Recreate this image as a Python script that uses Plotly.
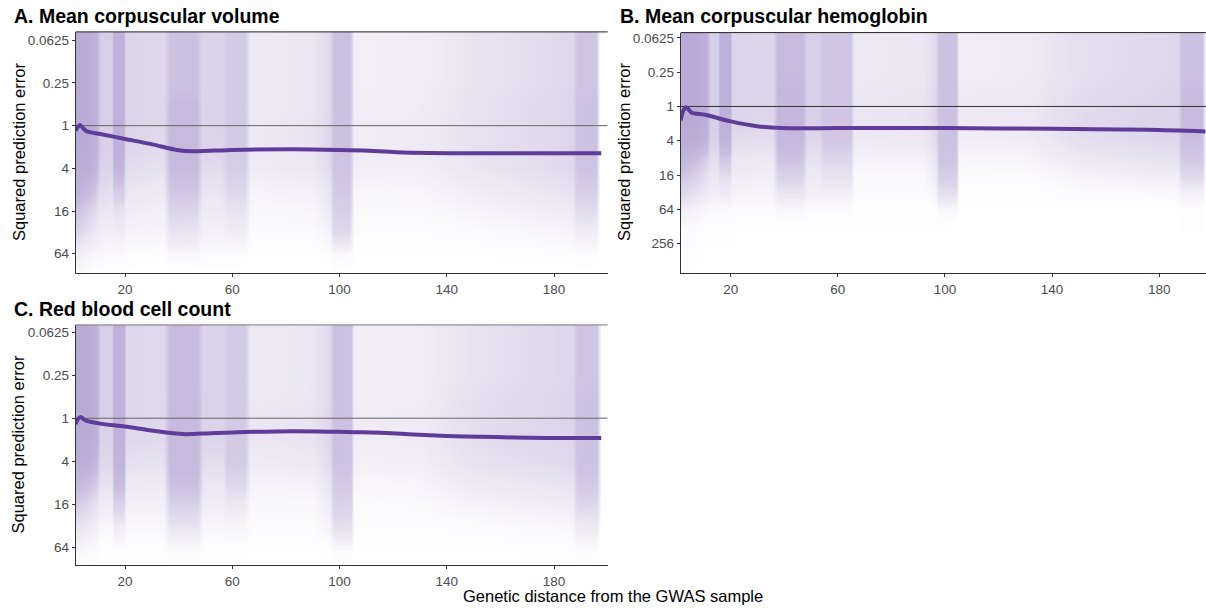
import numpy as np
import plotly.graph_objects as go

FONT = "Liberation Sans"
W, H = 1206, 608

# ---------------- tick values / labels ----------------
x_ticks = [20, 60, 100, 140, 180]
y_ticks_AC = [0.0625, 0.25, 1, 4, 16, 64]
y_ticks_B = [0.0625, 0.25, 1, 4, 16, 64, 256]

panel_titles = ["A. Mean corpuscular volume", "B. Mean corpuscular hemoglobin", "C. Red blood cell count"]
y_title = "Squared prediction error"
x_title = "Genetic distance from the GWAS sample"

# ---------------- smoothed trend lines ----------------
A_line_x = [1.6, 2.4, 3.2, 4.3, 5.7, 10.7, 20, 30.6, 39.3, 45.5, 60, 82.8, 100, 108.9, 121.3, 133.8, 146.2, 170, 197.6]
A_line_y = [1.18, 1.04, 0.98, 1.08, 1.20, 1.31, 1.54, 1.85, 2.20, 2.30, 2.20, 2.15, 2.20, 2.25, 2.37, 2.43, 2.45, 2.45, 2.45]

B_line_x = [1.3, 2.2, 3.2, 4.2, 5.4, 10.4, 20, 30.4, 39.1, 60, 101, 140, 176, 197.3]
B_line_y = [1.76, 1.20, 1.03, 1.12, 1.29, 1.40, 1.83, 2.24, 2.40, 2.40, 2.40, 2.47, 2.57, 2.74]

C_line_x = [1.6, 2.5, 3.5, 4.5, 5.7, 10.7, 20, 30.6, 41.7, 51.7, 60, 82.8, 100, 108.9, 121.3, 133.8, 146.2, 158.6, 171, 183.5, 197.6]
C_line_y = [1.21, 1.02, 0.96, 1.03, 1.09, 1.19, 1.31, 1.50, 1.67, 1.62, 1.58, 1.52, 1.55, 1.57, 1.64, 1.73, 1.80, 1.84, 1.88, 1.90, 1.90]

# ---------------- point-cloud density (share of full tint) ----------------
err_knots_AC = [0.045, 0.125, 0.25, 0.5, 1, 2, 4, 8, 16, 32, 64, 125]
err_knots_B = [0.045, 0.125, 0.25, 0.5, 1, 2, 4, 8, 16, 32, 64, 128, 256, 900]

A_dist_knots = [1.6, 6.0, 9.0, 10.5, 15.2, 15.9, 19.3, 20.3, 34.5, 36.8, 46.7, 48.5, 56.0, 57.9, 64.8,
                66.5, 90.0, 96.5, 98.0, 103.8, 105.2, 130.0, 150.0, 180.0, 187.0, 188.5, 195.5, 197.0]
A_density = [
    [0.95, 0.95, 0.95, 0.95, 0.95, 0.95, 0.93, 0.80, 0.55, 0.32, 0.12, 0.03],
    [0.95, 0.95, 0.95, 0.95, 0.95, 0.95, 0.92, 0.65, 0.40, 0.22, 0.08, 0.02],
    [0.85, 0.85, 0.85, 0.85, 0.85, 0.85, 0.75, 0.45, 0.26, 0.15, 0.05, 0.01],
    [0.40, 0.40, 0.40, 0.40, 0.40, 0.40, 0.36, 0.27, 0.19, 0.12, 0.05, 0.01],
    [0.40, 0.40, 0.40, 0.40, 0.40, 0.38, 0.33, 0.24, 0.16, 0.10, 0.04, 0.01],
    [0.85, 0.85, 0.85, 0.85, 0.85, 0.85, 0.75, 0.45, 0.22, 0.12, 0.04, 0.01],
    [0.85, 0.85, 0.85, 0.85, 0.85, 0.85, 0.75, 0.45, 0.22, 0.12, 0.04, 0.01],
    [0.35, 0.35, 0.35, 0.35, 0.35, 0.32, 0.27, 0.19, 0.13, 0.08, 0.03, 0.00],
    [0.30, 0.30, 0.30, 0.30, 0.30, 0.28, 0.22, 0.15, 0.10, 0.07, 0.02, 0.00],
    [0.55, 0.55, 0.55, 0.60, 0.65, 0.65, 0.62, 0.50, 0.33, 0.20, 0.05, 0.00],
    [0.55, 0.55, 0.55, 0.60, 0.65, 0.65, 0.62, 0.50, 0.33, 0.18, 0.05, 0.00],
    [0.35, 0.35, 0.35, 0.35, 0.35, 0.33, 0.28, 0.20, 0.14, 0.10, 0.03, 0.00],
    [0.35, 0.35, 0.35, 0.35, 0.35, 0.33, 0.28, 0.20, 0.14, 0.09, 0.03, 0.00],
    [0.45, 0.45, 0.45, 0.45, 0.45, 0.45, 0.42, 0.32, 0.20, 0.12, 0.03, 0.00],
    [0.45, 0.45, 0.45, 0.45, 0.45, 0.45, 0.42, 0.32, 0.20, 0.12, 0.03, 0.00],
    [0.15, 0.15, 0.15, 0.15, 0.16, 0.16, 0.13, 0.08, 0.05, 0.03, 0.01, 0.00],
    [0.18, 0.18, 0.18, 0.18, 0.20, 0.20, 0.16, 0.10, 0.06, 0.03, 0.01, 0.00],
    [0.30, 0.30, 0.30, 0.30, 0.32, 0.32, 0.28, 0.20, 0.14, 0.08, 0.02, 0.00],
    [0.55, 0.55, 0.55, 0.55, 0.55, 0.55, 0.52, 0.47, 0.40, 0.30, 0.05, 0.00],
    [0.55, 0.55, 0.55, 0.55, 0.55, 0.55, 0.52, 0.47, 0.40, 0.28, 0.04, 0.00],
    [0.10, 0.10, 0.10, 0.12, 0.13, 0.13, 0.10, 0.06, 0.04, 0.02, 0.01, 0.00],
    [0.12, 0.12, 0.12, 0.13, 0.14, 0.14, 0.11, 0.07, 0.04, 0.02, 0.01, 0.00],
    [0.20, 0.20, 0.20, 0.22, 0.22, 0.22, 0.18, 0.12, 0.07, 0.03, 0.01, 0.00],
    [0.28, 0.28, 0.28, 0.30, 0.30, 0.30, 0.27, 0.20, 0.12, 0.06, 0.02, 0.00],
    [0.32, 0.32, 0.32, 0.34, 0.34, 0.34, 0.30, 0.22, 0.14, 0.07, 0.02, 0.00],
    [0.50, 0.50, 0.50, 0.55, 0.55, 0.55, 0.52, 0.42, 0.27, 0.12, 0.03, 0.00],
    [0.50, 0.50, 0.50, 0.55, 0.55, 0.55, 0.52, 0.42, 0.27, 0.12, 0.03, 0.00],
    [0.00, 0.00, 0.00, 0.00, 0.00, 0.00, 0.00, 0.00, 0.00, 0.00, 0.00, 0.00],
]

B_dist_knots = [1.3, 7.0, 11.0, 12.0, 15.3, 15.9, 19.5, 20.5, 35.5, 37.5, 46.6, 48.3, 53.0, 54.5, 64.7,
                66.0, 92.0, 96.5, 97.5, 104.0, 105.3, 130.0, 150.0, 180.0, 187.0, 188.5, 195.8, 197.3]
B_density = [
    [0.95, 0.95, 0.95, 0.95, 0.95, 0.95, 0.93, 0.78, 0.52, 0.30, 0.12, 0.04, 0.02, 0.01],
    [0.95, 0.95, 0.95, 0.95, 0.95, 0.95, 0.92, 0.62, 0.38, 0.22, 0.08, 0.03, 0.02, 0.01],
    [0.85, 0.85, 0.85, 0.85, 0.85, 0.85, 0.75, 0.42, 0.25, 0.15, 0.05, 0.02, 0.01, 0.00],
    [0.40, 0.40, 0.40, 0.40, 0.40, 0.40, 0.36, 0.27, 0.19, 0.12, 0.04, 0.02, 0.01, 0.00],
    [0.40, 0.40, 0.40, 0.40, 0.40, 0.40, 0.35, 0.25, 0.18, 0.11, 0.04, 0.02, 0.01, 0.00],
    [0.85, 0.85, 0.85, 0.85, 0.85, 0.85, 0.80, 0.50, 0.28, 0.14, 0.04, 0.02, 0.01, 0.00],
    [0.85, 0.85, 0.85, 0.85, 0.85, 0.85, 0.80, 0.50, 0.28, 0.14, 0.04, 0.02, 0.01, 0.00],
    [0.35, 0.35, 0.35, 0.35, 0.35, 0.33, 0.27, 0.19, 0.13, 0.08, 0.03, 0.01, 0.01, 0.00],
    [0.32, 0.32, 0.32, 0.32, 0.32, 0.30, 0.24, 0.16, 0.11, 0.07, 0.03, 0.01, 0.00, 0.00],
    [0.65, 0.65, 0.65, 0.68, 0.70, 0.70, 0.67, 0.55, 0.38, 0.20, 0.05, 0.01, 0.00, 0.00],
    [0.65, 0.65, 0.65, 0.68, 0.70, 0.70, 0.67, 0.55, 0.38, 0.20, 0.05, 0.01, 0.00, 0.00],
    [0.40, 0.40, 0.40, 0.40, 0.40, 0.38, 0.30, 0.22, 0.15, 0.10, 0.03, 0.01, 0.00, 0.00],
    [0.40, 0.40, 0.40, 0.40, 0.40, 0.38, 0.30, 0.22, 0.15, 0.10, 0.03, 0.01, 0.00, 0.00],
    [0.50, 0.50, 0.50, 0.50, 0.50, 0.50, 0.47, 0.33, 0.22, 0.10, 0.03, 0.01, 0.00, 0.00],
    [0.50, 0.50, 0.50, 0.50, 0.50, 0.50, 0.47, 0.33, 0.22, 0.10, 0.03, 0.01, 0.00, 0.00],
    [0.16, 0.16, 0.16, 0.17, 0.18, 0.18, 0.14, 0.08, 0.05, 0.03, 0.01, 0.01, 0.00, 0.00],
    [0.18, 0.18, 0.18, 0.19, 0.20, 0.20, 0.16, 0.09, 0.05, 0.03, 0.01, 0.01, 0.00, 0.00],
    [0.30, 0.30, 0.30, 0.30, 0.32, 0.32, 0.28, 0.20, 0.14, 0.08, 0.02, 0.01, 0.00, 0.00],
    [0.55, 0.55, 0.55, 0.55, 0.55, 0.55, 0.55, 0.52, 0.42, 0.25, 0.05, 0.01, 0.00, 0.00],
    [0.55, 0.55, 0.55, 0.55, 0.55, 0.55, 0.55, 0.52, 0.42, 0.25, 0.05, 0.01, 0.00, 0.00],
    [0.12, 0.12, 0.12, 0.14, 0.15, 0.15, 0.11, 0.06, 0.03, 0.01, 0.01, 0.00, 0.00, 0.00],
    [0.14, 0.14, 0.14, 0.15, 0.16, 0.16, 0.12, 0.07, 0.03, 0.01, 0.01, 0.00, 0.00, 0.00],
    [0.24, 0.24, 0.24, 0.26, 0.28, 0.28, 0.24, 0.16, 0.08, 0.03, 0.01, 0.00, 0.00, 0.00],
    [0.30, 0.30, 0.30, 0.32, 0.34, 0.34, 0.30, 0.22, 0.12, 0.04, 0.01, 0.00, 0.00, 0.00],
    [0.32, 0.32, 0.32, 0.34, 0.35, 0.35, 0.31, 0.23, 0.13, 0.04, 0.01, 0.00, 0.00, 0.00],
    [0.55, 0.55, 0.55, 0.58, 0.60, 0.60, 0.57, 0.48, 0.32, 0.10, 0.02, 0.01, 0.00, 0.00],
    [0.55, 0.55, 0.55, 0.58, 0.60, 0.60, 0.57, 0.48, 0.32, 0.10, 0.02, 0.01, 0.00, 0.00],
    [0.00, 0.00, 0.00, 0.00, 0.00, 0.00, 0.00, 0.00, 0.00, 0.00, 0.00, 0.00, 0.00, 0.00],
]

C_dist_knots = [1.6, 6.0, 9.4, 10.5, 15.2, 15.9, 19.4, 20.4, 34.5, 36.8, 47.0, 48.8, 56.5, 57.9, 64.8,
                66.5, 90.0, 96.5, 97.8, 104.0, 105.3, 130.0, 150.0, 180.0, 187.0, 188.5, 195.8, 197.3]
C_density = [
    [0.95, 0.95, 0.95, 0.95, 0.95, 0.95, 0.92, 0.68, 0.42, 0.22, 0.07, 0.02],
    [0.95, 0.95, 0.95, 0.95, 0.95, 0.95, 0.90, 0.58, 0.33, 0.16, 0.05, 0.01],
    [0.85, 0.85, 0.85, 0.85, 0.85, 0.85, 0.70, 0.40, 0.22, 0.11, 0.04, 0.01],
    [0.40, 0.40, 0.40, 0.40, 0.38, 0.36, 0.32, 0.23, 0.14, 0.06, 0.02, 0.00],
    [0.40, 0.40, 0.40, 0.40, 0.38, 0.36, 0.30, 0.21, 0.12, 0.05, 0.02, 0.00],
    [0.80, 0.80, 0.80, 0.80, 0.80, 0.80, 0.77, 0.63, 0.38, 0.13, 0.03, 0.00],
    [0.80, 0.80, 0.80, 0.80, 0.80, 0.80, 0.77, 0.63, 0.38, 0.13, 0.03, 0.00],
    [0.32, 0.32, 0.32, 0.32, 0.32, 0.30, 0.24, 0.16, 0.10, 0.05, 0.02, 0.00],
    [0.30, 0.30, 0.30, 0.30, 0.30, 0.28, 0.22, 0.15, 0.10, 0.05, 0.02, 0.00],
    [0.60, 0.60, 0.60, 0.62, 0.65, 0.65, 0.65, 0.57, 0.38, 0.20, 0.05, 0.00],
    [0.60, 0.60, 0.60, 0.62, 0.65, 0.65, 0.65, 0.57, 0.38, 0.20, 0.05, 0.00],
    [0.35, 0.35, 0.35, 0.35, 0.35, 0.33, 0.27, 0.18, 0.12, 0.06, 0.02, 0.00],
    [0.35, 0.35, 0.35, 0.35, 0.35, 0.33, 0.27, 0.18, 0.12, 0.06, 0.02, 0.00],
    [0.45, 0.45, 0.45, 0.45, 0.45, 0.45, 0.45, 0.32, 0.16, 0.07, 0.02, 0.00],
    [0.45, 0.45, 0.45, 0.45, 0.45, 0.45, 0.45, 0.32, 0.16, 0.07, 0.02, 0.00],
    [0.15, 0.15, 0.15, 0.16, 0.18, 0.18, 0.14, 0.08, 0.05, 0.03, 0.01, 0.00],
    [0.18, 0.18, 0.18, 0.18, 0.20, 0.20, 0.16, 0.09, 0.05, 0.03, 0.01, 0.00],
    [0.30, 0.30, 0.30, 0.30, 0.32, 0.32, 0.28, 0.20, 0.14, 0.08, 0.02, 0.00],
    [0.55, 0.55, 0.55, 0.55, 0.55, 0.55, 0.55, 0.47, 0.37, 0.25, 0.05, 0.00],
    [0.55, 0.55, 0.55, 0.55, 0.55, 0.55, 0.55, 0.47, 0.37, 0.25, 0.05, 0.00],
    [0.12, 0.12, 0.12, 0.12, 0.13, 0.13, 0.10, 0.06, 0.03, 0.02, 0.01, 0.00],
    [0.12, 0.12, 0.12, 0.13, 0.14, 0.14, 0.11, 0.07, 0.04, 0.02, 0.01, 0.00],
    [0.22, 0.22, 0.22, 0.24, 0.26, 0.26, 0.22, 0.15, 0.08, 0.03, 0.01, 0.00],
    [0.30, 0.30, 0.30, 0.32, 0.32, 0.32, 0.28, 0.20, 0.12, 0.05, 0.02, 0.00],
    [0.32, 0.32, 0.32, 0.34, 0.34, 0.34, 0.30, 0.22, 0.13, 0.06, 0.02, 0.00],
    [0.50, 0.50, 0.50, 0.55, 0.55, 0.55, 0.55, 0.47, 0.32, 0.15, 0.04, 0.00],
    [0.50, 0.50, 0.50, 0.55, 0.55, 0.55, 0.55, 0.47, 0.32, 0.15, 0.04, 0.00],
    [0.00, 0.00, 0.00, 0.00, 0.00, 0.00, 0.00, 0.00, 0.00, 0.00, 0.00, 0.00],
]

# ---------------- styling ----------------
CLOUD = "184,169,213"
CLOUD_SCALE = [[0.0, f"rgba({CLOUD},0)"], [0.1, f"rgba({CLOUD},0.18)"], [0.3, f"rgba({CLOUD},0.45)"],
               [0.6, f"rgba({CLOUD},0.78)"], [1.0, f"rgba({CLOUD},1)"]]
LINE_COLOR = "#5e3c99"
TICK_COLOR = "#4d4d4d"
AXIS_COLOR = "#333333"


def px_x(p):
    return p / W


def px_y(p):
    return 1 - p / H


panels = [
    dict(name="A", xa="x", ya="y", xdom=[px_x(75.7), px_x(607.7)], ydom=[px_y(272.3), px_y(30.0)],
         xr=[1.6, 200.0], yr_log2=[6.92, -4.39], yt=y_ticks_AC, ek=err_knots_AC,
         dk=A_dist_knots, dens=A_density, lx=A_line_x, ly=A_line_y, one="#666666", top="#222222"),
    dict(name="B", xa="x2", ya="y2", xdom=[px_x(680.7), 1.0], ydom=[px_y(272.3), px_y(30.7)],
         xr=[1.3, 197.5], yr_log2=[9.74, -4.31], yt=y_ticks_B, ek=err_knots_B,
         dk=B_dist_knots, dens=B_density, lx=B_line_x, ly=B_line_y, one="#333333", top="#222222"),
    dict(name="C", xa="x3", ya="y3", xdom=[px_x(75.7), px_x(607.7)], ydom=[px_y(565.3), px_y(324.0)],
         xr=[1.6, 200.0], yr_log2=[6.85, -4.34], yt=y_ticks_AC, ek=err_knots_AC,
         dk=C_dist_knots, dens=C_density, lx=C_line_x, ly=C_line_y, one="#666666", top="#777777"),
]

fig = go.Figure()
layout = {}

for i, p in enumerate(panels):
    z = np.array(p["dens"]).T  # rows = error knots, cols = distance knots
    fig.add_trace(go.Heatmap(
        x=p["dk"], y=p["ek"], z=z, zmin=0, zmax=1, zsmooth="best", showscale=False,
        colorscale=CLOUD_SCALE, hoverinfo="skip", xaxis=p["xa"], yaxis=p["ya"]))
    fig.add_trace(go.Scatter(
        x=p["xr"], y=[1, 1], mode="lines", line=dict(color=p["one"], width=1),
        hoverinfo="skip", showlegend=False, xaxis=p["xa"], yaxis=p["ya"]))
    fig.add_trace(go.Scatter(
        x=p["lx"], y=p["ly"], mode="lines", line=dict(color=LINE_COLOR, width=4, shape="spline", smoothing=0.8),
        hoverinfo="skip", showlegend=False, xaxis=p["xa"], yaxis=p["ya"]))

    suffix = "" if i == 0 else str(i + 1)
    layout["xaxis" + suffix] = dict(
        domain=p["xdom"], anchor=p["ya"], range=p["xr"], tickmode="array", tickvals=x_ticks,
        ticks="outside", ticklen=3, tickwidth=1, tickcolor=AXIS_COLOR, showline=True, linecolor=AXIS_COLOR,
        linewidth=1, showgrid=False, zeroline=False,
        tickfont=dict(family=FONT, size=13.5, color=TICK_COLOR))
    layout["yaxis" + suffix] = dict(
        domain=p["ydom"], anchor=p["xa"], type="log",
        range=[v * np.log10(2) for v in p["yr_log2"]],
        tickmode="array", tickvals=p["yt"], ticktext=[f"{v:g}" for v in p["yt"]],
        ticks="outside", ticklen=3, tickwidth=1, tickcolor=AXIS_COLOR, showline=True, linecolor=AXIS_COLOR,
        linewidth=1, showgrid=False, zeroline=False,
        tickfont=dict(family=FONT, size=13.5, color=TICK_COLOR))

shapes = []
for p in panels:
    shapes.append(dict(type="line", xref=p["xa"] + " domain", yref=p["ya"] + " domain",
                       x0=0, x1=1, y0=1, y1=1, line=dict(color=p["top"], width=1)))

TITLE_FONT = dict(family=FONT, size=19.5, color="black")
LABEL_FONT = dict(family=FONT, size=16.5, color="black")
annotations = [
    dict(text=f"<b>{panel_titles[0]}</b>", x=px_x(12), y=px_y(14), xref="paper", yref="paper",
         xanchor="left", yanchor="middle", showarrow=False, font=TITLE_FONT),
    dict(text=f"<b>{panel_titles[1]}</b>", x=px_x(618), y=px_y(14), xref="paper", yref="paper",
         xanchor="left", yanchor="middle", showarrow=False, font=TITLE_FONT),
    dict(text=f"<b>{panel_titles[2]}</b>", x=px_x(12), y=px_y(308), xref="paper", yref="paper",
         xanchor="left", yanchor="middle", showarrow=False, font=TITLE_FONT),
    dict(text=y_title, x=px_x(18.5), y=px_y(151), xref="paper", yref="paper", textangle=-90,
         xanchor="center", yanchor="middle", showarrow=False, font=LABEL_FONT),
    dict(text=y_title, x=px_x(623.5), y=px_y(151), xref="paper", yref="paper", textangle=-90,
         xanchor="center", yanchor="middle", showarrow=False, font=LABEL_FONT),
    dict(text=y_title, x=px_x(18.5), y=px_y(444.5), xref="paper", yref="paper", textangle=-90,
         xanchor="center", yanchor="middle", showarrow=False, font=LABEL_FONT),
    dict(text=x_title, x=px_x(612.5), y=px_y(596), xref="paper", yref="paper",
         xanchor="center", yanchor="middle", showarrow=False, font=LABEL_FONT),
]

fig.update_layout(
    width=W, height=H, margin=dict(l=0, r=0, t=0, b=0),
    paper_bgcolor="white", plot_bgcolor="white", showlegend=False,
    shapes=shapes, annotations=annotations, **layout)

fig.write_html("out.html")
